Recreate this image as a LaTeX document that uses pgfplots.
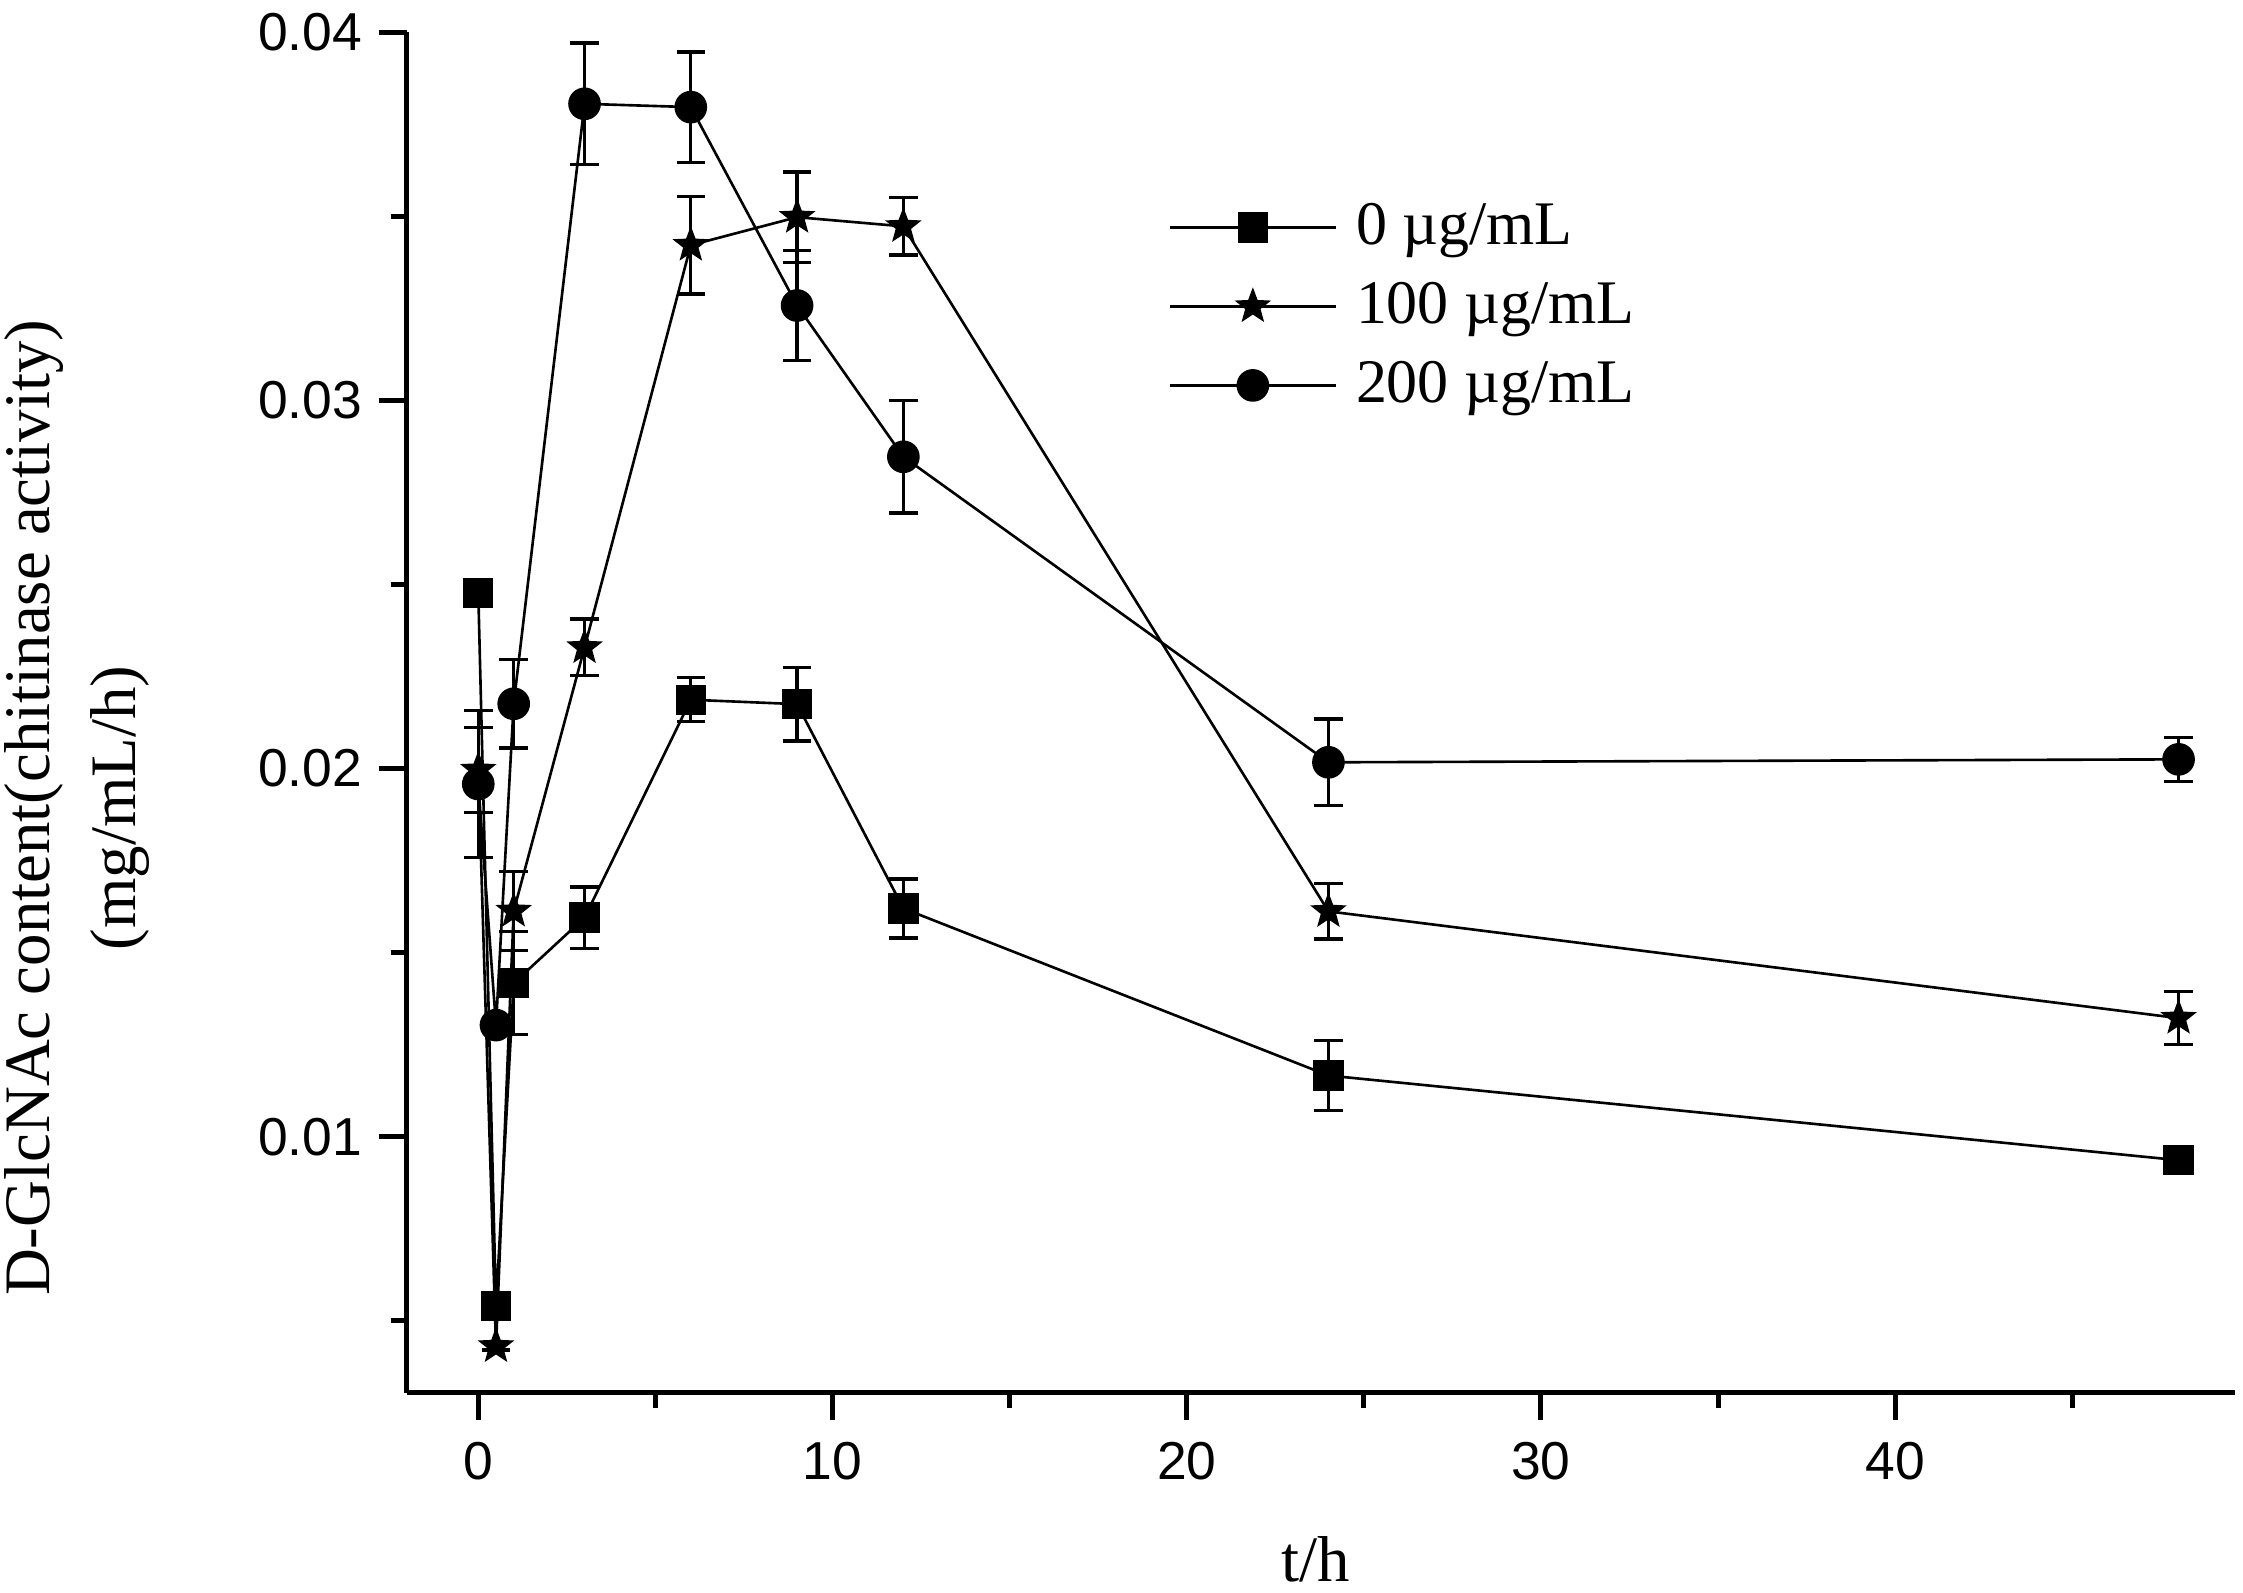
\documentclass[border=0pt]{standalone}
\usepackage{fontspec}
\setmainfont{Liberation Serif}
\newfontfamily\arialf{Liberation Sans}
\usepackage{pgfplots}
\pgfplotsset{compat=1.18}
\usepackage{pgfplotstable}

\pgfdeclareplotmark{fstar}{%
  \pgfpathmoveto{\pgfpointpolar{90}{\pgfplotmarksize}}%
  \pgfpathlineto{\pgfpointpolar{126}{0.42\pgfplotmarksize}}%
  \pgfpathlineto{\pgfpointpolar{162}{\pgfplotmarksize}}%
  \pgfpathlineto{\pgfpointpolar{198}{0.42\pgfplotmarksize}}%
  \pgfpathlineto{\pgfpointpolar{234}{\pgfplotmarksize}}%
  \pgfpathlineto{\pgfpointpolar{270}{0.42\pgfplotmarksize}}%
  \pgfpathlineto{\pgfpointpolar{306}{\pgfplotmarksize}}%
  \pgfpathlineto{\pgfpointpolar{342}{0.42\pgfplotmarksize}}%
  \pgfpathlineto{\pgfpointpolar{18}{\pgfplotmarksize}}%
  \pgfpathlineto{\pgfpointpolar{54}{0.42\pgfplotmarksize}}%
  \pgfpathclose
  \pgfusepathqfillstroke
}

\pgfplotstableread{
x y e
0 0.02477 0.0001
0.5 0.00540 0.0001
1 0.01417 0.0014
3 0.01595 0.00083
6 0.02187 0.0006
9 0.02175 0.0010
12 0.01620 0.0008
24 0.01166 0.00095
48 0.00936 0.0002
}\dataA
\pgfplotstableread{
x y e
0 0.01996 0.00116
0.5 0.00430 0.0001
1 0.01613 0.00107
3 0.02329 0.00077
6 0.03422 0.00133
9 0.03498 0.00123
12 0.03473 0.00078
24 0.01612 0.00075
48 0.01322 0.00072
}\dataB
\pgfplotstableread{
x y e
0 0.01958 0.0020
0.5 0.01303 0.0001
1 0.02176 0.0012
3 0.03806 0.00165
6 0.03797 0.0015
9 0.03258 0.0015
12 0.02847 0.00153
24 0.02017 0.00118
48 0.02025 0.0006
}\dataC

\begin{document}
\begin{tikzpicture}
\begin{axis}[
  at={(0,0)}, anchor=south west,
  scale only axis,
  width=383.4pt, height=285.3pt,
  xmin=-2.02, xmax=49.59,
  ymin=0.00304, ymax=0.04,
  axis x line*=bottom, axis y line*=left,
  axis line style={line width=1.05pt},
  tick align=outside,
  major tick length=5.8pt, minor tick length=3.2pt,
  every tick/.style={line width=1.05pt, black},
  xtick={0,10,20,30,40}, minor xtick={5,15,25,35,45},
  ytick={0.01,0.02,0.03,0.04}, minor ytick={0.005,0.015,0.025,0.035},
  scaled y ticks=false,
  yticklabel style={/pgf/number format/.cd, fixed, fixed zerofill, precision=2},
  xticklabel style={yshift=-1pt},
  /pgf/number format/assume math mode=true,
  ticklabel style={font=\arialf\fontsize{11.2}{13}\selectfont},
  xlabel={t/h},
  ylabel={D-GlcNAc content(chitinase activity)\\(mg/mL/h)},
  label style={font=\fontsize{13.6}{18}\selectfont},
  xlabel style={at={(axis description cs:0.4974,-0.0936)}, anchor=north},
  ylabel style={align=center, at={(axis description cs:-0.1315,0.43)}, anchor=south},
  legend style={at={(0.4085,0.889)}, anchor=north west, draw=none, fill=none,
    font=\fontsize{13}{16}\selectfont, legend cell align=left, row sep=2.4pt, column sep=2pt},
  legend image code/.code={\draw[mark repeat=2,mark phase=2,#1] plot coordinates {(0cm,0cm) (0.61cm,0cm) (1.22cm,0cm)};},
  every axis plot/.append style={line width=0.55pt, black},
  error bars/error bar style={line width=0.7pt},
  error bars/error mark options={rotate=90, mark size=3pt, line width=0.7pt},
]
\addplot[mark=square*, mark size=2.9pt, mark options={fill=black}, error bars/.cd, y dir=both, y explicit] table[x=x, y=y, y error=e] {\dataA};
\addlegendentry{0 µg/mL}
\addplot[mark=fstar, mark size=3.6pt, mark options={fill=black, line width=0.3pt}, error bars/.cd, y dir=both, y explicit] table[x=x, y=y, y error=e] {\dataB};
\addlegendentry{100 µg/mL}
\addplot[mark=*, mark size=3.15pt, mark options={fill=black}, error bars/.cd, y dir=both, y explicit] table[x=x, y=y, y error=e] {\dataC};
\addlegendentry{200 µg/mL}
\end{axis}
\pgfresetboundingbox
\path[use as bounding box] (-85.3pt,-41.8pt) rectangle (385.1pt,292.1pt);
\end{tikzpicture}
\end{document}
